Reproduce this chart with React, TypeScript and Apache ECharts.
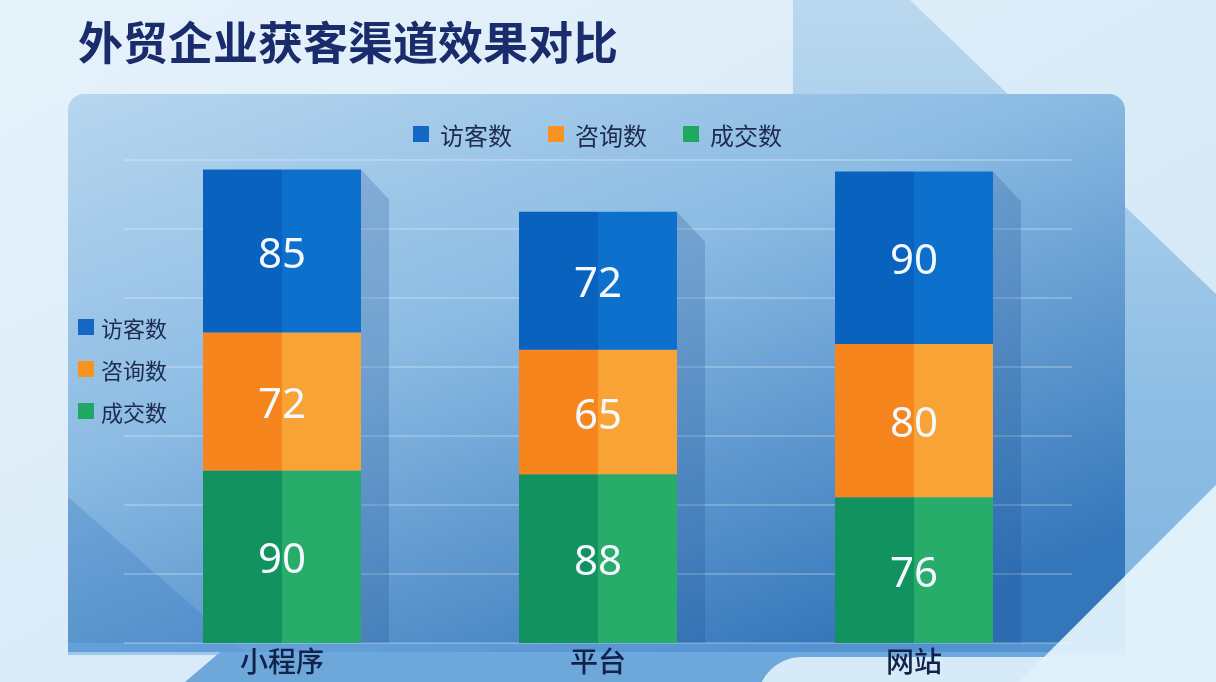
import React, { useEffect, useRef } from "react";
import * as echarts from "echarts";

const categories = ["小程序", "平台", "网站"];
const visitors = [85, 72, 90];
const inquiries = [72, 65, 80];
const deals = [90, 88, 76];
const seriesNames = ["访客数", "咨询数", "成交数"];
const titleText = "外贸企业获客渠道效果对比";

const W = 1216;
const H = 682;
const BAR_W = 158;

function hardSplit(l: string, r: string) {
  return new echarts.graphic.LinearGradient(0, 0, 1, 0, [
    { offset: 0, color: l },
    { offset: 0.5, color: l },
    { offset: 0.5, color: r },
    { offset: 1, color: r },
  ]);
}

export default function App() {
  const ref = useRef<HTMLDivElement>(null);
  useEffect(() => {
    if (!ref.current) return;
    const chart = echarts.init(ref.current, null, { renderer: "svg", width: W, height: H });
    const totals = categories.map((_, i) => [i, visitors[i] + inquiries[i] + deals[i]]);
    const legendColors = ["#1468c4", "#f7931e", "#1fa862"];
    const legendData = seriesNames.map((n, i) => ({ name: n, itemStyle: { color: legendColors[i] } }));
    const labelStyle = {
      show: true,
      position: "inside",
      fontSize: 42,
      color: "#f4f8ff",
      fontFamily: "Noto Sans",
    };
    chart.setOption({
      animation: false,
      backgroundColor: "transparent",
      title: {
        text: titleText,
        left: 73,
        top: 13,
        textStyle: {
          fontSize: 45,
          fontWeight: "bold",
          color: "#1a2c6b",
          fontFamily: "Noto Sans CJK SC",
        },
      },
      graphic: [
        {
          type: "rect",
          z: -10,
          silent: true,
          shape: { x: 0, y: 0, width: W, height: H },
          style: {
            fill: new echarts.graphic.LinearGradient(0, 0, 1, 1, [
              { offset: 0, color: "#e6f2fa" },
              { offset: 1, color: "#cfe5f6" },
            ]),
          },
        },
        {
          type: "polygon",
          z: -9,
          silent: true,
          shape: {
            points: [
              [793, 0],
              [910, 0],
              [1216, 294],
              [1216, 485],
              [1019, 682],
              [793, 682],
            ],
          },
          style: {
            fill: new echarts.graphic.LinearGradient(0, 0, 0, 1, [
              { offset: 0, color: "#bad8ef" },
              { offset: 0.6, color: "#8dbde4" },
              { offset: 1, color: "#7db2de" },
            ]),
          },
        },
        {
          type: "polygon",
          z: -8,
          silent: true,
          shape: { points: [[185, 682], [225, 648], [1125, 648], [1125, 682]] },
          style: { fill: "#6ea8da" },
        },
        {
          type: "rect",
          z: -7,
          silent: true,
          shape: { x: 68, y: 94, width: 1057, height: 558, r: [16, 16, 0, 0] },
          style: {
            fill: new echarts.graphic.LinearGradient(0, 0, 0.7, 1, [
              { offset: 0, color: "#b7d6ef" },
              { offset: 0.45, color: "#8bbbe3" },
              { offset: 1, color: "#3577bb" },
            ]),
          },
        },
        {
          type: "polygon",
          z: -6,
          silent: true,
          shape: { points: [[68, 497], [68, 652], [245, 652]] },
          style: { fill: "rgba(50,120,195,0.28)" },
        },
        {
          type: "rect",
          z: -6,
          silent: true,
          shape: { x: 68, y: 643, width: 1057, height: 12 },
          style: { fill: "rgba(110,170,225,0.55)" },
        },
        {
          type: "rect",
          z: -5,
          silent: true,
          shape: { x: 757, y: 657, width: 420, height: 60, r: [45, 0, 0, 0] },
          style: { fill: "#d6eaf8" },
        },
        {
          type: "polygon",
          z: -5,
          silent: true,
          shape: { points: [[1216, 485], [1216, 682], [1019, 682]] },
          style: { fill: "rgba(226,241,251,0.95)" },
        },
      ],
      legend: [
        {
          data: legendData,
          orient: "horizontal",
          left: 408,
          top: 117,
          itemWidth: 16,
          itemHeight: 16,
          itemGap: 36,
          icon: "rect",
          textStyle: {
            fontSize: 24,
            color: "#1c2b4d",
            fontFamily: "Noto Sans CJK SC",
            padding: [0, 0, 0, 6],
          },
        },
        {
          data: legendData,
          orient: "vertical",
          left: 73,
          top: 311,
          itemWidth: 16,
          itemHeight: 16,
          itemGap: 20,
          icon: "rect",
          textStyle: {
            fontSize: 22,
            color: "#1c2b4d",
            fontFamily: "Noto Sans CJK SC",
            padding: [0, 0, 0, 2],
          },
        },
      ],
      grid: {
        left: 124,
        right: W - 1072,
        top: 160,
        bottom: H - 643,
        outerBoundsMode: "none",
        containLabel: false,
      },
      xAxis: {
        type: "category",
        data: categories,
        axisLine: { show: false },
        axisTick: { show: false },
        axisLabel: {
          fontSize: 28,
          lineHeight: 28,
          color: "#13224a",
          margin: 3,
          fontWeight: 500,
          fontFamily: "Noto Sans CJK SC",
        },
      },
      yAxis: {
        type: "value",
        min: 0,
        max: 252,
        interval: 36,
        axisLabel: { show: false },
        axisLine: { show: false },
        axisTick: { show: false },
        splitLine: { lineStyle: { color: "rgba(255,255,255,0.3)", width: 1.5 } },
      },
      series: [
        {
          type: "custom",
          name: "shadow",
          z: 1,
          silent: true,
          data: totals,
          renderItem: (params: any, api: any) => {
            const top = api.coord([api.value(0), api.value(1)]);
            const base = api.coord([api.value(0), 0]);
            const x0 = top[0] + BAR_W / 2;
            return {
              type: "polygon",
              shape: {
                points: [
                  [x0, top[1]],
                  [x0 + 28, top[1] + 30],
                  [x0 + 28, base[1]],
                  [x0, base[1]],
                ],
              },
              style: { fill: "rgba(25,75,140,0.22)" },
            };
          },
        },
        {
          name: seriesNames[2],
          type: "bar",
          stack: "total",
          z: 3,
          barWidth: BAR_W,
          data: deals,
          itemStyle: { color: hardSplit("#12925f", "#27ac69") },
          label: labelStyle,
        },
        {
          name: seriesNames[1],
          type: "bar",
          stack: "total",
          z: 3,
          barWidth: BAR_W,
          data: inquiries,
          itemStyle: { color: hardSplit("#f5851c", "#f9a236") },
          label: labelStyle,
        },
        {
          name: seriesNames[0],
          type: "bar",
          stack: "total",
          z: 3,
          barWidth: BAR_W,
          data: visitors,
          itemStyle: { color: hardSplit("#0a62bf", "#0e70cd") },
          label: labelStyle,
        },
      ],
    });
    return () => chart.dispose();
  }, []);
  return (
    <div
      ref={ref}
      style={{ position: "fixed", left: 0, top: 0, width: W, height: H }}
    />
  );
}
